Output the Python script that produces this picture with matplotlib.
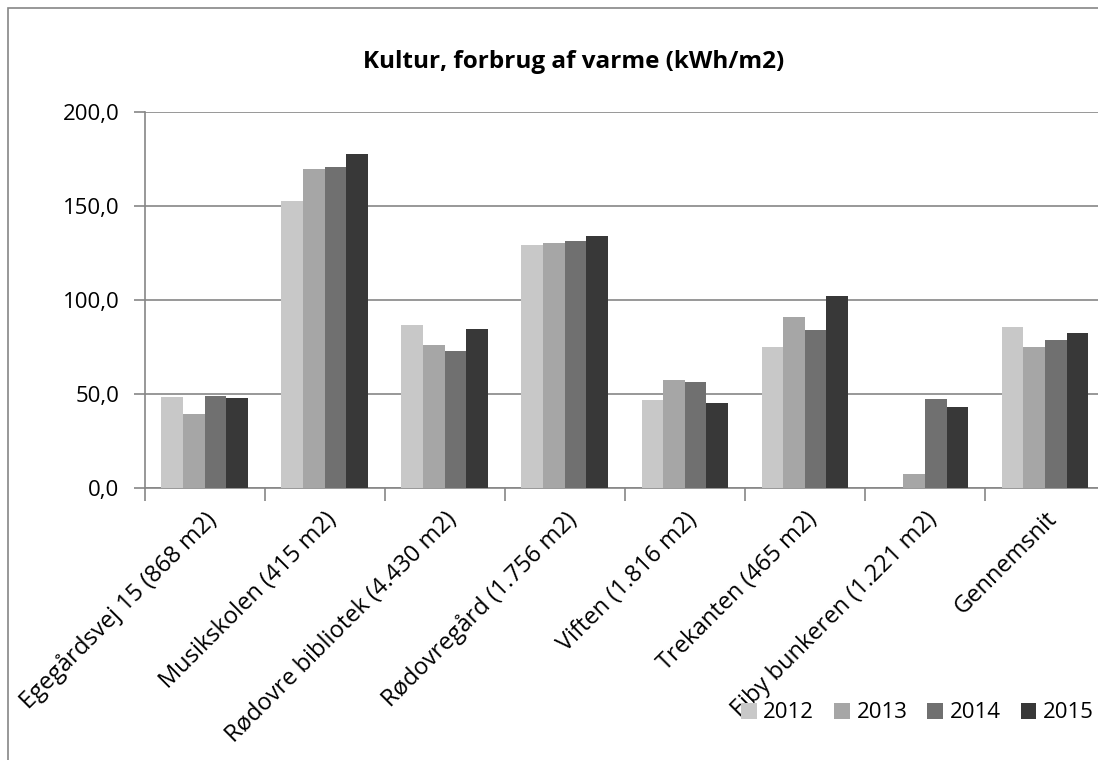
import numpy as np
import matplotlib
matplotlib.use("Agg")
import matplotlib.pyplot as plt
from matplotlib.patches import Rectangle
from matplotlib.ticker import FuncFormatter, FixedLocator

plt.rcParams["font.family"] = ["Open Sans", "DejaVu Sans"]

# === Data ===
buildings = [
    "Egegårdsvej 15 (868 m2)",
    "Musikskolen (415 m2)",
    "Rødovre bibliotek (4.430 m2)",
    "Rødovregård (1.756 m2)",
    "Viften (1.816 m2)",
    "Trekanten (465 m2)",
    "Eiby bunkeren (1.221 m2)",
    "Gennemsnit",
]
years = ["2012", "2013", "2014", "2015"]
v2012 = [48.6, 152.5, 86.7, 129.2, 47.0, 74.8, 0.0, 85.8]
v2013 = [39.2, 169.6, 76.0, 130.1, 57.6, 90.9, 7.3, 75.1]
v2014 = [48.9, 171.0, 72.8, 131.3, 56.5, 83.8, 47.3, 78.9]
v2015 = [48.0, 177.9, 84.4, 134.1, 45.4, 101.9, 43.3, 82.6]
series = [v2012, v2013, v2014, v2015]
colors = ["#c8c8c8", "#a6a6a6", "#707070", "#383838"]

W, H = 1098, 760
fig = plt.figure(figsize=(W / 100, H / 100), dpi=100)

# outer chart border (only left and top edges are inside the picture)
fig.patches.append(Rectangle((8 / W, -0.05), 1.2, (H - 8) / H + 0.05,
                             transform=fig.transFigure, fill=False,
                             edgecolor="#868686", linewidth=1.2))

ax_left, ax_right = 144.5, 1105.0
ax_top, ax_bot = 112.0, 488.0
ax = fig.add_axes([ax_left / W, (H - ax_bot) / H,
                   (ax_right - ax_left) / W, (ax_bot - ax_top) / H])

x = np.arange(len(buildings))
bw = 0.18
for i, (vals, c, yr) in enumerate(zip(series, colors, years)):
    ax.bar(x + (i - 1.5) * bw, vals, width=bw, color=c, label=yr,
           edgecolor="none", zorder=3)

ax.set_xlim(-0.5, len(buildings) - 0.5)
ax.set_ylim(0, 200)
ax.set_yticks([0, 50, 100, 150, 200])
ax.yaxis.set_major_formatter(FuncFormatter(lambda v, p: f"{v:.1f}".replace(".", ",")))
ax.grid(axis="y", color="#868686", linewidth=1.2, zorder=0)

# ticks at category boundaries, labels at centres
ax.xaxis.set_major_locator(FixedLocator(np.arange(-0.5, len(buildings) + 0.5, 1)))
ax.set_xticklabels([""] * (len(buildings) + 1))
ax.set_xticks(x, minor=True)
ax.set_xticklabels(buildings, minor=True, rotation=45, ha="right",
                   rotation_mode="anchor", fontsize=17)
ax.tick_params(axis="x", which="minor", length=0, pad=14)
ax.tick_params(axis="x", which="major", length=9, color="#868686", width=1.2)
ax.tick_params(axis="y", length=8, color="#868686", width=1.2, labelsize=16, pad=10)

for s in ["top", "right"]:
    ax.spines[s].set_visible(False)
for s in ["left", "bottom"]:
    ax.spines[s].set_color("#868686")
    ax.spines[s].set_linewidth(1.2)

fig.text(574 / W, (H - 62) / H, "Kultur, forbrug af varme (kWh/m2)",
         ha="center", va="center", fontsize=17.5, fontweight="bold")

fig.legend(loc="center right", bbox_to_anchor=(1096 / W, (H - 713) / H),
           ncol=4, frameon=False, fontsize=16, handlelength=0.7,
           handleheight=0.7, handletextpad=0.3, columnspacing=0.9,
           borderaxespad=0, borderpad=0.1)

fig.savefig("out.png", dpi=100)
